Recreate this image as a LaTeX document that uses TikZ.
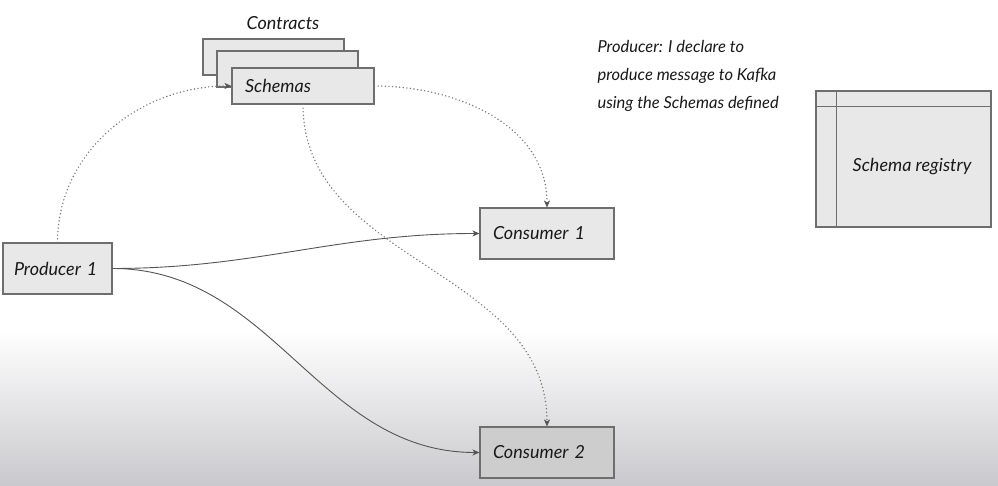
\documentclass[tikz,border=0pt]{standalone}
\usepackage{fontspec}
\setmainfont{Lato}
\usetikzlibrary{arrows.meta}
\definecolor{boxfill}{HTML}{E8E8E8}
\definecolor{boxdark}{HTML}{CDCDCD}
\definecolor{boxline}{HTML}{6E6E6E}
\definecolor{txt}{HTML}{1A1A1A}
\definecolor{bgbottom}{HTML}{C9C8CC}
\definecolor{dotcol}{HTML}{7A7A7A}
\definecolor{arrcol}{HTML}{555555}
\tikzset{
  hand/.style={font=\fontsize{18}{20}\selectfont\itshape, text=txt},
  box/.style={hand, draw=boxline, fill=boxfill, line width=1.1pt, rectangle,
    inner xsep=13pt, inner ysep=0pt, align=left},
  dotarrow/.style={draw=dotcol, line width=1.6pt, line cap=round,
    dash pattern=on 0pt off 3.6pt, -{Stealth[length=7pt,width=6pt,inset=2pt,color=arrcol,line width=0.6pt]}},
  solarrow/.style={draw=arrcol, line width=0.9pt,
    -{Stealth[length=7pt,width=6pt,inset=2pt]}},
}
\begin{document}
\begin{tikzpicture}[x=1pt,y=1pt]
\useasboundingbox (0,0) rectangle (998,486);
\fill[white] (0,0) rectangle (998,486);
\shade[bottom color=bgbottom, top color=white] (0,0) rectangle (998,156);

% Contracts stack
\node[hand] (contracts) at (283,463) {Contracts};
\node[box, minimum width=141pt, minimum height=36pt, text width=115pt] (schA) at (273.5,429) {};
\node[box, minimum width=141pt, minimum height=36pt, text width=115pt] (schB) at (287.5,417) {};
\node[box, minimum width=142pt, minimum height=36pt, text width=116pt] (schF) at (303,400) {Schemas};

% main boxes
\node[box, minimum width=109pt, minimum height=51pt, text width=87pt, inner xsep=11pt] (prod) at (57.5,217.5) {Producer 1};
\node[box, minimum width=134pt, minimum height=51pt, text width=108pt] (c1) at (547,252.5) {Consumer 1};
\node[box, fill=boxdark, minimum width=134pt, minimum height=51pt, text width=108pt] (c2) at (547,33.5) {Consumer 2};

% Schema registry
\node[box, minimum width=175pt, minimum height=136pt, text width=149pt] (reg) at (903.5,327) {};
\draw[boxline, line width=1.1pt] ([xshift=21pt]reg.north west) -- ([xshift=21pt]reg.south west);
\draw[boxline, line width=1.1pt] ([yshift=-16pt]reg.north west) -- ([yshift=-16pt]reg.north east);
\node[hand] (regtext) at (912,319) {Schema registry};

% note
\node[hand, anchor=west, align=left, font=\fontsize{16.5}{28}\selectfont\itshape] (note) at (594,410)
  {Producer: I declare to\\produce message to Kafka\\using the Schemas defined};

% connectors
\draw[dotarrow] (prod.north) to[out=90,in=180] (schF.west);
\draw[dotarrow] (schF.east) to[out=0,in=90] (c1.north);
\draw[dotarrow] (schF.south) to[out=-90,in=90] (c2.north);
\draw[solarrow] (prod.east) to[out=0,in=180] (c1.west);
\draw[solarrow] (prod.east) to[out=0,in=180] (c2.west);
\end{tikzpicture}
\end{document}
